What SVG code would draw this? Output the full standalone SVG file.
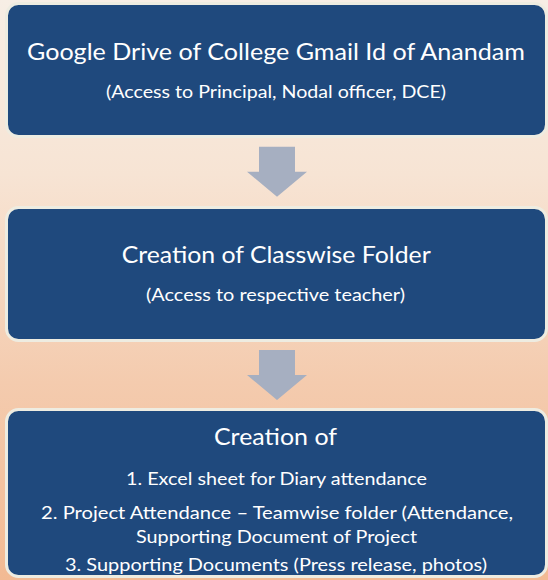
<svg xmlns="http://www.w3.org/2000/svg" xmlns:xlink="http://www.w3.org/1999/xlink" width="548" height="580" viewBox="0 0 548 580">
  <style>
    .box { fill: #1F497D; stroke: #EEECE1; stroke-width: 3; }
    .title { font-family: Lato, "Open Sans", "Liberation Sans", sans-serif; font-size: 23.5px; fill: #FFFFFF; text-anchor: middle; }
    .sub { font-family: Lato, "Open Sans", "Liberation Sans", sans-serif; font-size: 18px; fill: #FFFFFF; text-anchor: middle; }
    .arrow { fill: #A6AFC1; }
  </style>
  <defs>
    <linearGradient id="bg" x1="0" y1="0" x2="0" y2="1">
      <stop offset="0" stop-color="#F7EEE5"/>
      <stop offset="0.3" stop-color="#F7E4D4"/>
      <stop offset="0.66" stop-color="#F4CBAE"/>
      <stop offset="1" stop-color="#F2BA93"/>
    </linearGradient>
    <path id="downArrow" d="M -18 0 H 18 V 25 H 30 L 0 50 L -30 25 H -18 Z"/>
  </defs>

  <rect x="0" y="0" width="548" height="580" fill="url(#bg)"/>

  <g id="connectors">
    <use xlink:href="#downArrow" class="arrow" x="277" y="146.7"/>
    <use xlink:href="#downArrow" class="arrow" x="277" y="350"/>
  </g>

  <g id="node-google-drive">
    <rect class="box" x="6.5" y="3.5" width="540" height="133" rx="12" ry="12"/>
    <text class="title" x="276" y="59.5" textLength="498" lengthAdjust="spacingAndGlyphs">Google Drive of College Gmail Id of Anandam</text>
    <text class="sub" x="276" y="98" textLength="340" lengthAdjust="spacingAndGlyphs">(Access to Principal, Nodal officer, DCE)</text>
  </g>

  <g id="node-classwise-folder">
    <rect class="box" x="6.5" y="207.5" width="540" height="133" rx="12" ry="12"/>
    <text class="title" x="276.2" y="263.3" textLength="309" lengthAdjust="spacingAndGlyphs">Creation of Classwise Folder</text>
    <text class="sub" x="275.5" y="301" textLength="259" lengthAdjust="spacingAndGlyphs">(Access to respective teacher)</text>
  </g>

  <g id="node-creation-of">
    <rect class="box" x="6.5" y="409.5" width="540" height="167" rx="12" ry="12"/>
    <text class="title" x="275.5" y="445.3" textLength="123" lengthAdjust="spacingAndGlyphs">Creation of</text>
    <text class="sub" x="276.5" y="484.8" textLength="301" lengthAdjust="spacingAndGlyphs">1. Excel sheet for Diary attendance</text>
    <text class="sub" x="277" y="518.7" textLength="472" lengthAdjust="spacingAndGlyphs">2. Project Attendance – Teamwise folder (Attendance,</text>
    <text class="sub" x="276.5" y="543" textLength="281" lengthAdjust="spacingAndGlyphs">Supporting Document of Project</text>
    <text class="sub" x="276" y="571" textLength="422" lengthAdjust="spacingAndGlyphs">3. Supporting Documents (Press release, photos)</text>
  </g>
</svg>
